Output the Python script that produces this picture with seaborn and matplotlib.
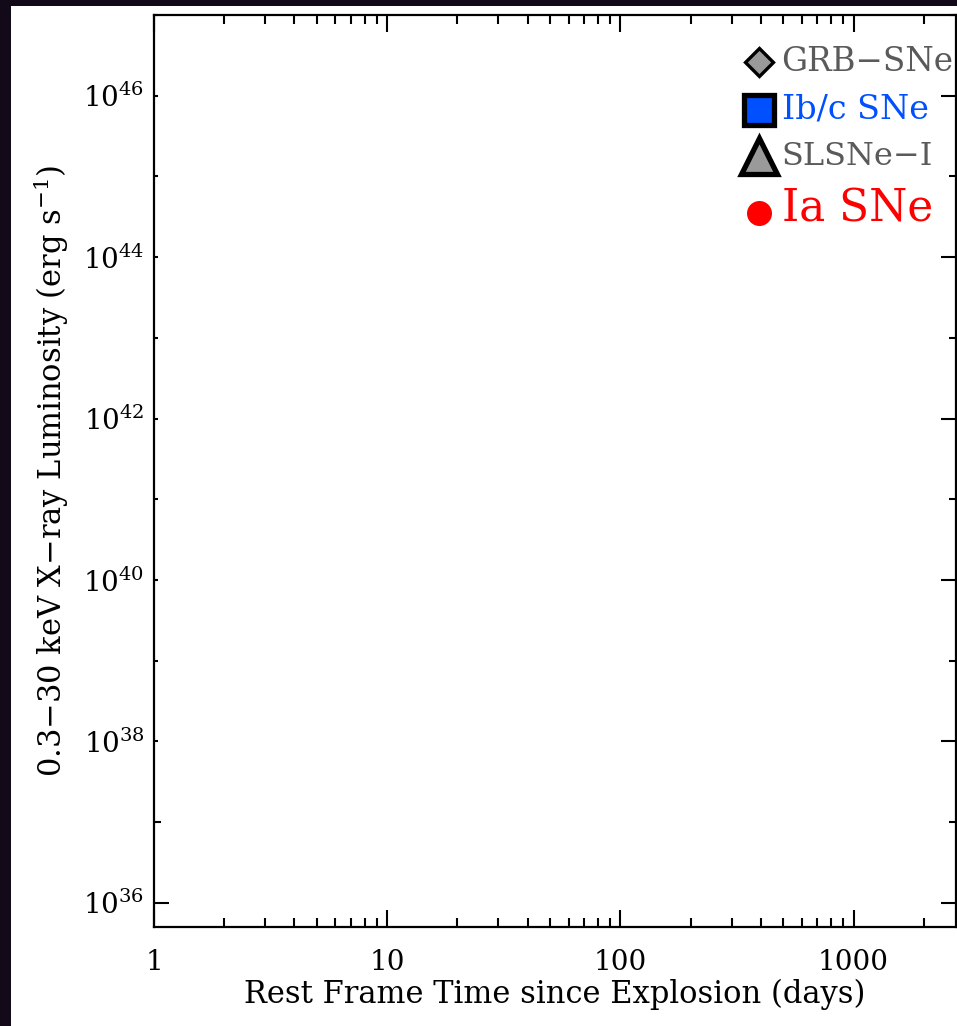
import numpy as np
import matplotlib
matplotlib.use("Agg")
import matplotlib.pyplot as plt
from matplotlib.lines import Line2D
from matplotlib.patches import Rectangle
from matplotlib.ticker import FixedLocator, FixedFormatter, LogLocator, NullFormatter
import seaborn as sns

# axis ranges and ticks
x_range = [1, 2750]
y_range = [10**35.7, 10**47.0]
x_ticks = [1, 10, 100, 1000]
x_tick_labels = ["1", "10", "100", "1000"]
y_ticks = [1e36, 1e38, 1e40, 1e42, 1e44, 1e46]
y_tick_labels = ["$10^{36}$", "$10^{38}$", "$10^{40}$", "$10^{42}$", "$10^{44}$", "$10^{46}$"]
y_minor_ticks = [1e37, 1e39, 1e41, 1e43, 1e45, 1e47]

# legend classes (no points are shown in the panel)
classes = ["GRB\u2212SNe", "Ib/c SNe", "SLSNe\u2212I", "Ia SNe"]
class_text_colors = ["#5a5a5a", "#0050ff", "#5a5a5a", "#ff0000"]
class_face_colors = ["#9a9a9a", "#0050ff", "#9a9a9a", "#ff0000"]
class_markers = ["D", "s", "^", "o"]

sns.set_theme(style="ticks")
plt.rcParams["font.family"] = ["DejaVu Serif"]
plt.rcParams["mathtext.fontset"] = "dejavuserif"

fig = plt.figure(figsize=(9.57, 10.26), dpi=100, facecolor="#120a18")
fig.add_artist(Rectangle((11 / 957, 0), 1, 1 - 6 / 1026, transform=fig.transFigure,
                         facecolor="white", edgecolor="none", zorder=-10))

ax = fig.add_axes([154 / 957, 1 - 927 / 1026, (956 - 154) / 957, (927 - 15) / 1026])
ax.set_facecolor("white")
ax.set_xscale("log")
ax.set_yscale("log")
ax.set_xlim(*x_range)
ax.set_ylim(*y_range)

ax.xaxis.set_major_locator(FixedLocator(x_ticks))
ax.xaxis.set_major_formatter(FixedFormatter(x_tick_labels))
ax.xaxis.set_minor_locator(LogLocator(base=10, subs=np.arange(2, 10)))
ax.xaxis.set_minor_formatter(NullFormatter())
ax.yaxis.set_major_locator(FixedLocator(y_ticks))
ax.yaxis.set_major_formatter(FixedFormatter(y_tick_labels))
ax.yaxis.set_minor_locator(FixedLocator(y_minor_ticks))
ax.yaxis.set_minor_formatter(NullFormatter())

for s in ax.spines.values():
    s.set_color("black")
    s.set_linewidth(1.6)

ax.tick_params(axis="both", which="both", direction="in", top=True, right=True,
               color="black", labelcolor="black", labelsize=20)
ax.tick_params(axis="x", which="major", length=12.5, width=1.5, pad=16)
ax.tick_params(axis="x", which="minor", length=6.5, width=1.5)
ax.tick_params(axis="y", which="major", length=11, width=1.5, pad=7)
ax.tick_params(axis="y", which="minor", length=5, width=1.5)

# the left-hand y ticks are mostly clipped short in the original
for t in ax.yaxis.get_major_ticks()[1:]:
    t.tick1line.set_markersize(3)
for t in ax.yaxis.get_minor_ticks()[1:]:
    t.tick1line.set_markersize(3)

ax.set_xlabel("Rest Frame Time since Explosion (days)", fontsize=22, color="black")
ax.set_ylabel("0.3\u221230 keV X\u2212ray Luminosity (erg s$^{-1}$)", fontsize=22, color="black")
ax.xaxis.set_label_coords(0.5, -0.057)
ax.yaxis.set_label_coords(-0.104, 0.5)

# legend keys
marker_sizes = [14, 21, 26, 18]
edge_widths = [2.4, 3.8, 3.8, 0]
handles = []
for lab, fc, mk, ms, ew in zip(classes, class_face_colors, class_markers, marker_sizes, edge_widths):
    handles.append(Line2D([], [], ls="none", marker=mk, markersize=ms, markerfacecolor=fc,
                          markeredgecolor="black", markeredgewidth=ew, label=lab))
leg = ax.legend(handles=handles, loc="upper right", bbox_to_anchor=(1.0, 0.969), frameon=False,
                fontsize=18, handlelength=1.0, handletextpad=0.42, labelspacing=0.62,
                borderaxespad=0.0, borderpad=0.1)
text_sizes = [23.5, 24, 23, 31.5]
for txt, col, fs in zip(leg.get_texts(), class_text_colors, text_sizes):
    txt.set_color(col)
    txt.set_fontsize(fs)

fig.savefig("out.png", dpi=100, facecolor=fig.get_facecolor())
